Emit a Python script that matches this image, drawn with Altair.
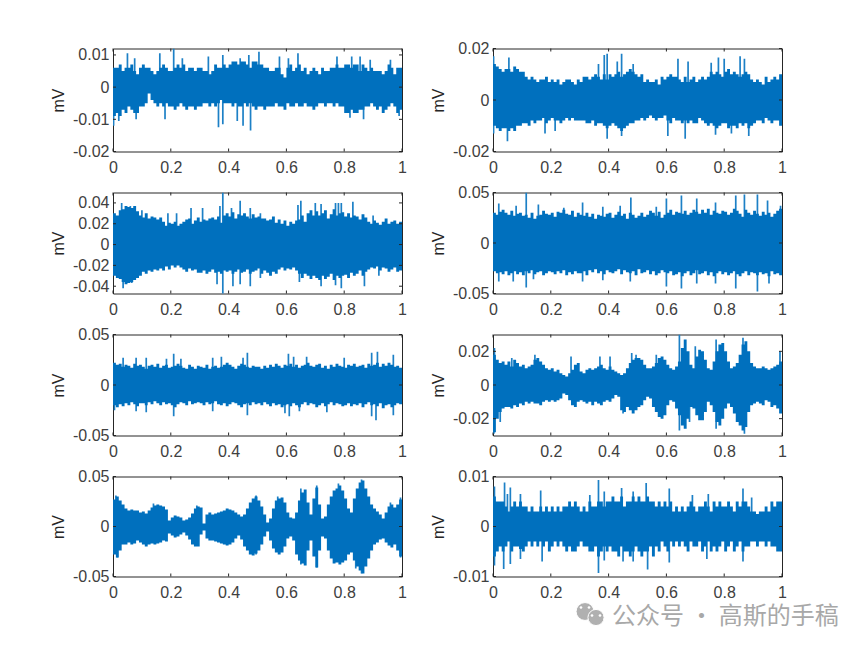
import altair as alt
import pandas as pd

X_TICKS = [0, 0.2, 0.4, 0.6, 0.8, 1]
BLUE = "#0070BE"
DARK = "#262626"

domains = [(-0.02, 0.012), (-0.02, 0.02), (-0.047, 0.05), (-0.05, 0.05),
           (-0.05, 0.05), (-0.03, 0.03), (-0.05, 0.05), (-0.01, 0.01)]
y_ticks = [[-0.02, -0.01, 0, 0.01], [-0.02, 0, 0.02], [-0.04, -0.02, 0, 0.02, 0.04], [-0.05, 0, 0.05],
           [-0.05, 0, 0.05], [-0.02, 0, 0.02], [-0.05, 0, 0.05], [-0.01, 0, 0.01]]
heights = [103, 103, 101, 101, 101, 101, 100, 100]

core_hi = [
 [6,6,7,5,6,6,7,5,4,6, 7,6,6,5,4,5,6,7,6,5, 5,6,7,6,7,5,6,6,5,6, 6,5,5,4,5,7,6,6,7,6,
  7,8,8,7,8,8,7,6,8,8, 7,7,6,6,5,5,6,6,4,3, 6,7,5,6,7,5,6,4,5,6, 5,4,6,5,5,6,6,7,6,6,
  7,7,6,7,7,5,7,6,5,6, 5,5,5,4,5,7,6,4,6,6],
 [14,13,12,11,12,12,11,13,12,11, 11,9,8,9,8,7,8,8,9,7, 8,7,8,6,7,8,8,7,6,8, 7,9,9,8,9,10,9,8,10,8,
  10,9,10,11,9,10,11,12,11,10, 9,10,7,8,7,7,8,6,9,8, 9,10,9,9,8,7,9,7,8,9, 7,8,9,8,9,11,10,11,10,9,
  11,12,10,11,10,9,10,11,10,8, 7,8,7,6,9,7,8,9,8,10],
 [30,28,33,34,37,36,35,37,32,28, 26,30,25,27,26,24,26,22,18,21, 20,22,18,20,22,24,25,20,23,26, 22,24,23,25,26,24,27,21,28,30,
  27,31,25,29,28,30,27,25,29,26, 27,25,25,23,24,27,21,24,20,23, 18,22,20,23,24,28,22,30,33,28, 32,28,30,33,25,29,34,28,30,31,
  27,30,26,28,27,24,29,26,22,20, 23,21,19,22,25,20,22,23,20,22],
 [30,28,31,33,30,28,32,27,29,30, 27,28,25,30,24,27,28,32,29,28, 30,26,31,30,33,29,28,32,26,30, 28,27,30,26,29,24,28,27,26,29,
  30,25,28,31,27,29,24,30,28,25, 27,30,26,28,32,30,27,31,25,28, 30,33,28,31,30,29,32,28,30,33, 31,29,33,30,34,28,32,30,29,32,
  31,28,30,34,32,29,26,33,30,28, 32,29,27,31,28,30,26,29,32,34],
 [22,20,21,18,20,19,17,21,19,20, 18,16,19,20,18,21,17,19,20,17, 18,19,21,19,17,16,20,18,16,19, 18,17,20,16,18,19,17,18,20,22,
  20,18,16,19,21,20,18,17,19,18, 18,16,19,17,20,18,21,19,17,20, 19,21,18,20,17,19,20,22,19,18, 20,21,17,19,16,20,18,21,19,18,
  17,20,19,21,18,19,20,17,21,19, 20,22,18,21,19,22,20,18,19,17],
 [18,15,13,14,12,14,11,15,13,11, 12,10,11,12,15,16,14,12,10,9, 10,8,9,7,6,5,7,9,12,13, 8,7,9,10,9,10,11,12,10,9,
  11,9,8,7,6,7,10,13,15,16, 16,15,12,10,10,11,13,16,17,15, 12,10,9,11,14,22,27,20,12,10, 17,21,20,15,10,9,14,20,24,25,
  20,14,10,11,13,18,24,26,20,13, 11,10,10,11,10,9,10,11,12,14],
 [27,30,26,22,18,16,17,16,16,14, 15,13,16,19,21,22,21,20,17,6, 9,11,10,9,6,7,9,13,18,20, 19,3,12,14,12,13,14,15,16,18,
  17,16,14,12,10,12,18,24,28,30, 26,20,12,4,8,18,26,28,29,24, 14,9,8,14,26,34,37,24,12,28, 39,22,8,10,22,30,36,38,41,36,
  28,18,14,28,38,44,46,38,30,22, 18,15,12,8,14,20,22,19,22,27],
 [6,5,5,5,4,3,4,5,4,5, 4,4,3,4,3,3,4,3,4,3, 4,3,4,3,4,4,5,4,5,4, 3,4,3,5,4,4,5,5,4,5,
  5,6,5,5,6,4,5,5,6,5, 6,5,5,6,5,5,4,5,4,5, 4,5,3,4,3,4,3,4,5,4, 3,4,4,5,4,3,5,4,5,4,
  4,5,4,3,5,4,5,5,4,3, 3,2.5,3,3,4,3,5,4,5,5],
]
core_lo = [
 [-9,-8,-9,-7,-8,-6,-7,-8,-8,-6, -6,-5,-2,-4,-5,-6,-5,-6,-5,-6, -6,-7,-6,-5,-6,-7,-6,-6,-7,-6, -6,-5,-5,-6,-5,-6,-5,-4,-5,-5,
  -5,-6,-5,-6,-6,-5,-6,-5,-6,-7, -6,-6,-7,-6,-6,-6,-5,-6,-6,-7, -5,-6,-6,-5,-6,-6,-5,-6,-6,-7, -6,-5,-5,-6,-5,-5,-6,-5,-6,-6,
  -8,-8,-7,-8,-8,-7,-7,-6,-6,-5, -6,-7,-6,-8,-7,-6,-5,-6,-8,-7],
 [-10,-11,-12,-11,-11,-12,-11,-12,-10,-10, -9,-9,-10,-8,-9,-8,-8,-7,-9,-8, -7,-8,-8,-9,-8,-7,-8,-7,-8,-8, -8,-8,-9,-9,-8,-10,-9,-9,-10,-11,
  -10,-9,-10,-11,-12,-11,-10,-9,-9,-8, -8,-7,-8,-7,-6,-7,-8,-7,-7,-6, -8,-9,-7,-8,-8,-9,-8,-9,-8,-9, -9,-7,-8,-9,-10,-9,-10,-11,-10,-9,
  -9,-11,-10,-10,-11,-9,-10,-9,-11,-10, -9,-8,-8,-9,-7,-8,-9,-8,-8,-10],
 [-30,-32,-33,-36,-38,-37,-36,-34,-32,-30, -26,-28,-25,-26,-24,-25,-23,-25,-21,-24, -20,-22,-20,-22,-24,-26,-23,-25,-24,-27, -27,-25,-28,-26,-24,-27,-26,-28,-25,-26,
  -25,-28,-26,-24,-27,-26,-24,-28,-26,-25, -23,-28,-25,-27,-30,-26,-28,-24,-22,-25, -23,-24,-22,-25,-28,-32,-28,-30,-33,-30, -32,-34,-30,-33,-31,-28,-34,-30,-32,-30,
  -29,-32,-27,-30,-28,-25,-30,-26,-24,-22, -23,-21,-25,-22,-23,-26,-24,-22,-26,-25],
 [-28,-30,-29,-31,-28,-32,-30,-28,-31,-29, -32,-28,-30,-27,-31,-29,-28,-32,-30,-28, -29,-31,-28,-30,-27,-32,-29,-31,-28,-30, -30,-28,-32,-27,-29,-26,-30,-28,-31,-27,
  -29,-30,-28,-26,-31,-27,-29,-30,-28,-32, -26,-30,-29,-27,-31,-28,-32,-30,-27,-29, -30,-28,-32,-31,-29,-33,-30,-28,-32,-30, -27,-31,-30,-28,-32,-29,-33,-30,-28,-31,
  -29,-32,-30,-28,-31,-33,-30,-28,-32,-29, -30,-32,-29,-31,-30,-33,-28,-31,-30,-32],
 [-20,-22,-19,-21,-18,-20,-17,-19,-21,-18, -18,-20,-17,-19,-16,-18,-20,-17,-19,-18, -20,-22,-19,-17,-18,-20,-16,-19,-18,-17, -18,-20,-17,-19,-18,-16,-19,-20,-18,-21,
  -19,-17,-18,-20,-22,-19,-18,-20,-17,-19, -18,-20,-17,-19,-21,-18,-20,-19,-22,-20, -19,-21,-18,-20,-22,-19,-17,-20,-18,-19, -22,-20,-18,-21,-19,-17,-20,-18,-19,-21,
  -20,-18,-21,-19,-20,-18,-22,-19,-17,-20, -19,-21,-18,-23,-20,-19,-22,-20,-18,-19],
 [-28,-20,-16,-14,-13,-13,-14,-12,-13,-11, -12,-10,-11,-10,-11,-11,-12,-10,-9,-10, -9,-10,-9,-8,-5,-6,-9,-12,-13,-10, -9,-10,-11,-10,-12,-10,-11,-12,-10,-9,
  -10,-8,-6,-7,-15,-16,-13,-15,-17,-15, -13,-12,-9,-7,-8,-13,-16,-19,-20,-18, -12,-9,-10,-14,-18,-24,-26,-20,-13,-14, -18,-21,-21,-16,-10,-12,-16,-22,-24,-20,
  -14,-11,-13,-17,-22,-24,-27,-25,-16,-12, -11,-10,-11,-12,-9,-10,-13,-12,-14,-17],
 [-28,-31,-24,-18,-18,-16,-18,-17,-14,-16, -18,-20,-18,-17,-18,-17,-16,-14,-15,-7, -9,-11,-10,-8,-6,-9,-13,-18,-20,-20, -8,-4,-12,-14,-14,-15,-16,-17,-18,-19,
  -18,-16,-12,-9,-13,-20,-24,-28,-29,-27, -24,-18,-10,-5,-14,-22,-26,-28,-26,-20, -12,-10,-14,-28,-34,-37,-39,-24,-14,-30, -41,-24,-10,-12,-24,-32,-37,-36,-38,-36,
  -34,-28,-26,-34,-40,-44,-47,-40,-32,-24, -18,-16,-13,-12,-16,-19,-21,-18,-24,-30],
 [-6,-5,-4,-5,-4,-3,-5,-4,-4,-4.5, -5,-4,-3,-4,-3,-4,-3,-4,-3,-5, -4,-3,-4,-3,-4,-5,-4,-5,-5,-4, -3,-4,-4,-5,-5,-4,-6,-5,-4,-5,
  -4,-5,-5,-6,-4,-5,-5,-6,-5,-4, -5,-6,-5,-5,-4,-6,-4,-5,-3,-4, -5,-3,-4,-3,-4,-3,-4,-5,-3,-4, -4,-3,-5,-4,-3,-5,-4,-5,-4,-3,
  -5,-4,-3,-5,-4,-3,-5,-4,-4,-3, -3,-4,-3,-3,-4,-3,-4,-4,-5,-5],
]
spike_x = [
 [.05,.075,.162,.21,.24,.33,.38,.44,.47,.505,.576,.607,.64,.775,.826,.855,.89,.96, .002,.02,.08,.18,.365,.38,.43,.45,.476,.82,.867,.99],
 [.002,.055,.365,.385,.395,.43,.445,.485,.64,.675,.755,.78,.8,.855,.87, .05,.002,.18,.215,.395,.445,.605,.665,.77,.825,.885],
 [.03,.06,.1,.19,.22,.27,.31,.37,.38,.41,.44,.475,.51,.64,.65,.7,.72,.77,.78,.79,.83,.9, .035,.065,.36,.38,.415,.44,.475,.51,.645,.72,.77,.79,.87,.92],
 [.02,.08,.115,.157,.245,.31,.38,.44,.477,.565,.6,.652,.705,.77,.84,.87,.915,.95,.995, .02,.07,.115,.14,.31,.38,.475,.6,.652,.705,.77,.84,.915,.955],
 [.035,.08,.115,.185,.21,.235,.345,.375,.45,.465,.607,.625,.67,.8,.895,.915,.97, .005,.08,.115,.21,.345,.465,.595,.61,.645,.74,.895,.91,.97],
 [.005,.065,.145,.27,.37,.405,.48,.495,.565,.645,.7,.772,.865,.993, .003,.025,.45,.645,.68,.772,.87],
 [.01,.14,.29,.495,.57,.65,.705,.78,.86,.96,.995, .015,.495,.65,.705,.84,.86,.995],
 [.005,.04,.05,.06,.095,.165,.335,.365,.385,.445,.485,.53,.61,.69,.745,.865,.895, .005,.037,.06,.095,.17,.365,.385,.45,.485,.535,.61,.74,.865],
]
spike_y = [
 [10.5,9,10.5,12,9,9.5,10,9,10,11,9.5,9,10.5,9.5,9.5,9.5,8.5,8.5, -12,-10.5,-10,-10,-12.5,-11.5,-10.5,-12,-13.5,-9.5,-10,-9],
 [17,16.5,14,17.5,18,15,18,14,16,15,14.5,16.5,16,17,16, -16,-13,-13,-12,-15,-14,-14,-15,-13.5,-13,-14],
 [40,37,33,30,30,35,35,37,50,35,42,35,30,38,42,40,39,40,40,40,41,28, -42,-37,-38,-50,-40,-38,-40,-32,-36,-40,-39,-42,-40,-30],
 [39,37,50,38,35,40,36,37,45,36,44,47,44,40,47,48,48,42,37, -38,-38,-44,-36,-38,-37,-38,-43,-45,-40,-40,-45,-48,-40],
 [27,27,27,26,31,26,27,28,27,32,31,28,28,27,32,33,30, -25,-26,-27,-31,-26,-30,-28,-31,-26,-27,-31,-35,-30],
 [22,16,18,17,17,17,19,18,18,30,23,27,28,20, -29,-22,-17,-27,-22,-26,-29],
 [31,23,21,31,30,38,41,43,47,24,29, -31,-28,-38,-41,-42,-47,-31],
 [8,8.8,6.5,7.8,6.5,7.2,6.3,9.3,7,7.7,7,8.7,7.6,6.3,6.5,7.6,5.8, -7.8,-8.5,-7.5,-6.5,-7,-9.3,-6.8,-7,-7,-8.6,-7.2,-6.5,-7],
]

WM_TEXT = "公众号 · 高斯的手稿"
icon_x = [92, 103]
icon_y = [135, 141]
icon_size = [320, 260]
eye_x = [88, 96, 99, 107]
eye_y = [131, 131, 139, 139]
TICK_LEN = 3
PANEL_W = 289
ONE_ROW = pd.DataFrame({"k": [0]})


def panel(i):
    lo, hi = domains[i]
    h = heights[i]
    w = PANEL_W
    n = len(core_hi[i])
    core = pd.DataFrame({
        "x": [k / n for k in range(n)] + [1],
        "hi": [v / 1000 for v in core_hi[i]] + [core_hi[i][-1] / 1000],
        "lo": [v / 1000 for v in core_lo[i]] + [core_lo[i][-1] / 1000],
    })
    spikes = pd.DataFrame({"x": spike_x[i], "y": [v / 1000 for v in spike_y[i]], "z": [0.0] * len(spike_x[i])})
    xs = alt.Scale(domain=[0, 1], nice=False, zero=False)
    ys = alt.Scale(domain=[lo, hi], nice=False, zero=False)
    x_axis = alt.Axis(values=X_TICKS, labelExpr="'' + datum.value", title=None, grid=False, ticks=False,
                      domain=False, labelPadding=8, labelFontSize=16, labelColor="#404040",
                      labelFont="Liberation Sans", labelFlush=False, labelOverlap=False)
    y_axis = alt.Axis(values=y_ticks[i], labelExpr="'' + datum.value", title="mV", grid=False, ticks=False,
                      domain=False, labelPadding=4, labelFontSize=16, labelColor="#404040",
                      labelFont="Liberation Sans", titleFont="Liberation Sans", titleFontSize=16,
                      titleFontWeight="normal", titleColor=DARK, titlePadding=8,
                      minExtent=39, maxExtent=39, labelOverlap=False)
    X = alt.X("x:Q", scale=xs, axis=x_axis)
    spike = alt.Chart(spikes).mark_rule(color="#1D80C6", strokeWidth=1.7, clip=True).encode(
        x=X, y=alt.Y("y:Q", scale=ys, axis=y_axis), y2="z:Q",
    )
    area = alt.Chart(core).mark_area(color=BLUE, interpolate="step-after", clip=True, opacity=1).encode(
        x=X, y=alt.Y("hi:Q", scale=ys, axis=y_axis), y2="lo:Q",
    )
    xt = pd.DataFrame({"x": X_TICKS})
    yt = pd.DataFrame({"y": y_ticks[i]})
    layers = [spike, area]
    for a, b in [(0, TICK_LEN), (h, h - TICK_LEN)]:
        layers.append(alt.Chart(xt).mark_rule(color=DARK, strokeWidth=1).encode(
            x=X, y=alt.value(a), y2=alt.value(b)))
    for a, b in [(0, TICK_LEN), (w, w - TICK_LEN)]:
        layers.append(alt.Chart(yt).mark_rule(color=DARK, strokeWidth=1).encode(
            y=alt.Y("y:Q", scale=ys, axis=y_axis), x=alt.value(a), x2=alt.value(b)))
    if i == 7:
        layers.append(alt.Chart(pd.DataFrame({"t": [WM_TEXT]})).mark_text(
            font="Noto Sans CJK SC", fontSize=24, color="#A8A8A8", align="left", baseline="middle", clip=False,
        ).encode(x=alt.value(119), y=alt.value(140), text="t:N"))
        for a, b, s in zip(icon_x, icon_y, icon_size):
            layers.append(alt.Chart(ONE_ROW).mark_circle(
                color="#B0B0B0", opacity=1, stroke="white", strokeWidth=1, size=s, clip=False,
            ).encode(x=alt.value(a), y=alt.value(b)))
        for a, b in zip(eye_x, eye_y):
            layers.append(alt.Chart(ONE_ROW).mark_circle(
                color="white", opacity=1, size=7, clip=False,
            ).encode(x=alt.value(a), y=alt.value(b)))
    return alt.layer(*layers).properties(width=w, height=h, view=alt.ViewBackground(stroke=DARK, strokeWidth=1))


chart = alt.concat(*[panel(i) for i in range(8)], columns=2,
                   spacing=alt.RowColnumber(row=41, column=91),
                   bounds="flush").resolve_scale(x="independent", y="independent").properties(
    padding={"left": 41, "top": 31.5, "right": 5, "bottom": 5},
    background="white",
)

chart.save("out.html", embed_options={"renderer": "svg", "actions": False})
